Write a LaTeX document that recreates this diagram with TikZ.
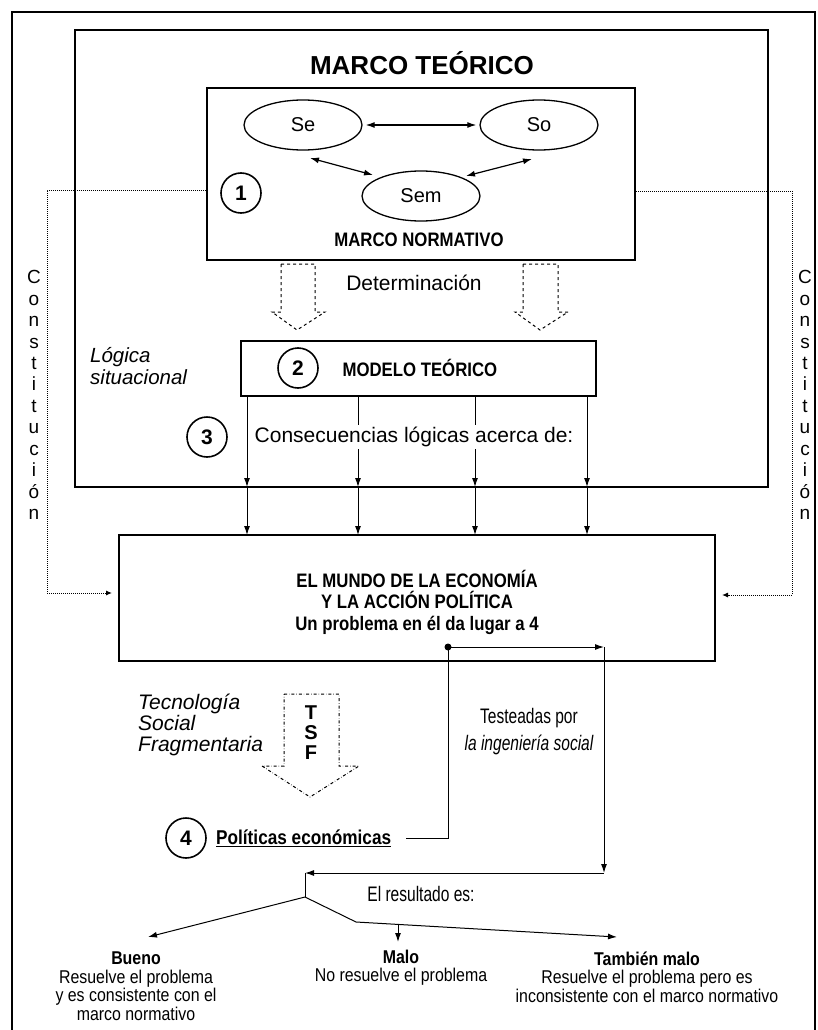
\documentclass[tikz,border=0pt]{standalone}
\usepackage{fontspec}
\setmainfont{Liberation Sans}
\newfontfamily\narrowfont{Liberation Sans}[FakeStretch=0.86]
\newfontfamily\condfont{Liberation Sans}[FakeStretch=0.74]
\usetikzlibrary{arrows.meta,positioning,calc,shapes.geometric}
\newcommand{\fsz}[1]{\fontsize{#1}{#1}\selectfont}
\tikzset{
  frame/.style={draw,line width=2pt,inner sep=0pt},
  ov/.style={ellipse,draw,line width=1.3pt,minimum width=118pt,minimum height=50pt,
    inner sep=0pt,font=\fsz{20}},
  num/.style={circle,draw,line width=1.6pt,minimum size=40pt,inner sep=0pt,
    font=\fsz{21}\bfseries},
  arr/.style={-{Latex[length=9pt,width=6pt]},line width=1pt},
  dbl/.style={{Latex[length=9pt,width=6pt]}-{Latex[length=9pt,width=6pt]},line width=1.2pt},
  constit/.style={densely dotted,line width=1pt,-{Latex[length=6pt,width=5pt]}},
  lbl/.style={font=\narrowfont\fsz{18.5},align=center,inner sep=0pt},
  cond/.style={font=\condfont\fsz{21},align=center,inner sep=0pt},
  vert/.style={font=\fsz{19},align=center,inner sep=0pt},
}
\begin{document}
\begin{tikzpicture}[x=1pt,y=-1pt]
    \useasboundingbox (0,0) rectangle (817,1030);
    \fill[white] (0,0) rectangle (817,1030);
    % page frame
    \draw[line width=1.5pt] (12,1030) -- (12,12) -- (815,12) -- (815,1030);

    % marco teorico
    \node[frame,minimum width=693pt,minimum height=457pt] (mt) at (421.5,258.5) {};
    \node[font=\fsz{26}\bfseries] (mttitle) at (422,63) {MARCO TEÓRICO};
    \node[frame,minimum width=428pt,minimum height=172pt] (mn) at (421,174) {};
    \node[ov] (se) at (303,125) {Se};
    \node[ov] (so) at (539,125) {So};
    \node[ov] (sem) at (421,196) {Sem};
    \draw[dbl,shorten <=3pt,shorten >=3pt] (se.east) -- (so.west);
    \draw[dbl] ($(se.center)+(7,33)$) -- ($(sem.center)+(-48,-21)$);
    \draw[dbl] ($(so.center)+(-7,34)$) -- ($(sem.center)+(45,-20)$);
    \node[num] (n1) at (241,193) {1};
    \node[font=\narrowfont\fsz{19.5}\bfseries] (mnlbl) at (419,240) {MARCO NORMATIVO};

    % determinacion
    \draw[dashed,line width=1pt] (281,264) -- (315,264) -- (315,312) -- (325,312) -- (297,330)
      -- (272,312) -- (281,312) -- cycle;
    \draw[dashed,line width=1pt] (523,264) -- (558,264) -- (558,312) -- (568,312) -- (540,330)
      -- (515,312) -- (523,312) -- cycle;
    \node[font=\fsz{21}] (det) at (414,283) {Determinación};

    % modelo teorico
    \node[frame,minimum width=355pt,minimum height=55pt] (mod) at (418.5,368) {};
    \node[num] (n2) at (298,368) {2};
    \node[font=\narrowfont\fsz{19.5}\bfseries,anchor=west] (modlbl) at (339,368) {MODELO TEÓRICO};
    \node[font=\fsz{20.5}\itshape,align=left,anchor=west,inner sep=0pt] (logica) at (90,366)
      {Lógica\\[2pt]situacional};

    % consecuencias
    \foreach \x in {247,358,475,587} {
      \draw[arr] (\x,396) -- (\x,487);
      \draw[arr] (\x,487) -- (\x,535);
    }
    \node[fill=white,inner sep=2pt,font=\fsz{21}] (cons) at (414,437) {Consecuencias lógicas acerca de:};
    \node[num] (n3) at (207,437) {3};

    % el mundo
    \node[frame,minimum width=596pt,minimum height=126pt] (mundo) at (417,598) {};
    \node[font=\narrowfont\fsz{19.5}\bfseries,align=center,inner sep=0pt] (mundolbl) at (417,602)
      {EL MUNDO DE LA ECONOMÍA\\[2pt]Y LA ACCIÓN POLÍTICA\\[2pt]Un problema en él da lugar a 4};

    % constitucion
    \node[vert] (cl) at (34,395) {C\\[2.45pt]o\\[2.45pt]n\\[2.45pt]s\\[2.45pt]t\\[2.45pt]i\\[2.45pt]t\\[2.45pt]u\\[2.45pt]c\\[2.45pt]i\\[2.45pt]ó\\[2.45pt]n};
    \node[vert] (cr) at (805,395) {C\\[2.45pt]o\\[2.45pt]n\\[2.45pt]s\\[2.45pt]t\\[2.45pt]i\\[2.45pt]t\\[2.45pt]u\\[2.45pt]c\\[2.45pt]i\\[2.45pt]ó\\[2.45pt]n};
    \draw[constit] (mn.west |- 0,190) -- (47,190) -- (47,593) -- (112,593);
    \draw[constit] (mn.east |- 0,191) -- (792,191) -- (792,595) -- (722,595);

    % tecnologia social fragmentaria
    \node[font=\fsz{21}\itshape,align=left,anchor=west,inner sep=0pt] (tsflbl) at (138,725)
      {Tecnología\\Social\\Fragmentaria};
    \draw[dash dot,line width=1pt] (284,694) -- (339,694) -- (339,766) -- (359,766) -- (310,797)
      -- (262,766) -- (284,766) -- cycle;
    \node[font=\fsz{20}\bfseries,align=center,inner sep=0pt] (tsf) at (311,733) {T\\S\\F};

    % politicas
    \node[num] (n4) at (186,838) {4};
    \node[font=\narrowfont\fsz{20}\bfseries,anchor=west,inner sep=0pt] (pol) at (216,838)
      {\underline{Políticas económicas}};
    \coordinate (dot) at (448,647);
    \coordinate (tr) at (604,647);
    \coordinate (br) at (604,873);
    \coordinate (bl) at (305,873);
    \coordinate (fork) at (305,897);
    \draw[line width=1pt] ($(pol.east)+(15,0)$) -- (dot |- pol.east) -- (dot);
    \fill (dot) circle (3.5pt);
    \draw[arr] (dot) -- (tr);
    \draw[arr] (tr) -- (br);
    \draw[arr] (br) -- (bl);
    \node[cond] (test) at (529,732) {Testeadas por\\[6pt]\itshape la ingeniería social};
    \node[cond] (res) at (421,894) {El resultado es:};

    % resultados
    \node[lbl] (bueno) at (136,986)
      {\bfseries Bueno\\Resuelve el problema\\y es consistente con el\\marco normativo};
    \node[lbl] (malo) at (401,967.5) {\bfseries Malo\\No resuelve el problema};
    \node[lbl] (tmalo) at (647,977)
      {\bfseries También malo\\Resuelve el problema pero es\\inconsistente con el marco normativo};
    \coordinate (kink) at (356,922);
    \draw[line width=1pt] (bl) -- (fork);
    \draw[arr] (fork) -- (148,937);
    \draw[arr] (fork) -- (kink) -- (617,937);
    \draw[arr] (398,924.5) -- (398,942);
\end{tikzpicture}
\end{document}
